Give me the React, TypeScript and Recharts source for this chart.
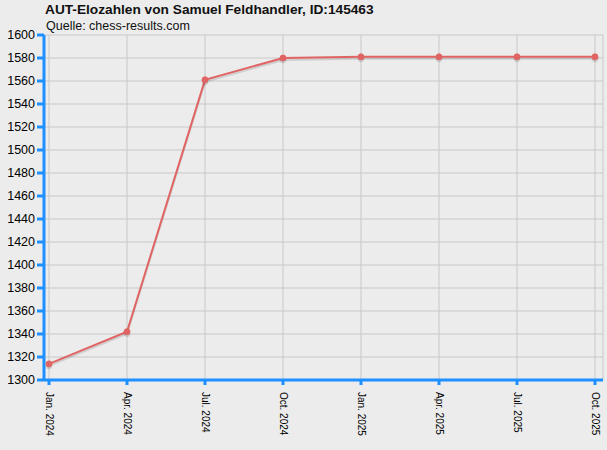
import { LineChart, Line, XAxis, YAxis, CartesianGrid } from 'recharts'

const months = [
  'Jan. 2024',
  'Apr. 2024',
  'Jul. 2024',
  'Oct. 2024',
  'Jan. 2025',
  'Apr. 2025',
  'Jul. 2025',
  'Oct. 2025',
]
const elo = [1314, 1342, 1561, 1580, 1581, 1581, 1581, 1581]
const yTicks = [
  1300, 1320, 1340, 1360, 1380, 1400, 1420, 1440, 1460, 1480, 1500, 1520, 1540, 1560, 1580, 1600,
]

const data = months.map((m, i) => ({ month: m, elo: elo[i] }))

const FONT = '"Liberation Sans", Arial, sans-serif'
const AXIS_BLUE = '#1e90ff'

function MonthTick({ x, y, payload }: any) {
  return (
    <text
      x={x + 5}
      y={y}
      transform={`rotate(90 ${x} ${y})`}
      fontSize={10}
      fontFamily={FONT}
      fill="#000"
      dominantBaseline="central"
    >
      {payload.value}
    </text>
  )
}

export default function App() {
  return (
    <div
      style={{
        position: 'fixed',
        left: 0,
        top: 0,
        width: 607,
        height: 450,
        background: '#ececec',
        fontFamily: FONT,
      }}
    >
      <div style={{ position: 'absolute', left: 45, top: 2, fontSize: 13.7, fontWeight: 'bold', color: '#111' }}>
        AUT-Elozahlen von Samuel Feldhandler, ID:145463
      </div>
      <div style={{ position: 'absolute', left: 46, top: 19, fontSize: 12.5, color: '#111' }}>
        Quelle: chess-results.com
      </div>
      <LineChart width={607} height={450} data={data} margin={{ top: 35, right: 4, left: 0, bottom: 0 }}>
        <CartesianGrid stroke="#c8c8c8" strokeWidth={1} />
        <XAxis
          dataKey="month"
          height={70}
          padding={{ left: 5, right: 8 }}
          interval={0}
          tickSize={5}
          tick={<MonthTick />}
          axisLine={{ stroke: AXIS_BLUE, strokeWidth: 3 }}
          tickLine={{ stroke: AXIS_BLUE, strokeWidth: 3 }}
        />
        <YAxis
          width={44}
          domain={[1300, 1600]}
          ticks={yTicks}
          interval={0}
          tickSize={7}
          tickMargin={2}
          tick={{ fontSize: 12.5, fill: '#000', fontFamily: FONT }}
          axisLine={{ stroke: AXIS_BLUE, strokeWidth: 3 }}
          tickLine={{ stroke: AXIS_BLUE, strokeWidth: 3 }}
        />
        <Line
          type="linear"
          dataKey="elo"
          stroke="#e06464"
          strokeWidth={2}
          dot={{ r: 3, fill: '#e06464', stroke: '#e06464', strokeWidth: 1 }}
          activeDot={false}
          isAnimationActive={false}
          style={{ filter: 'drop-shadow(0px 2px 0px rgba(0,0,0,0.12))' }}
        />
      </LineChart>
    </div>
  )
}
